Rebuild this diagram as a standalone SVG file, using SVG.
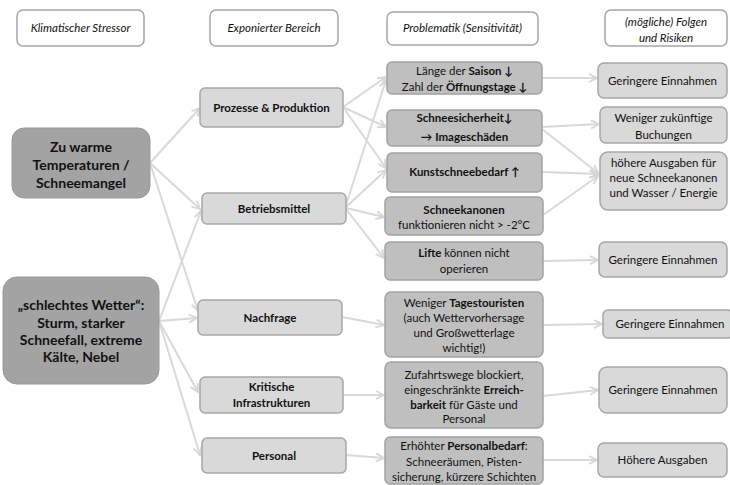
<svg xmlns="http://www.w3.org/2000/svg" width="730" height="485" viewBox="0 0 730 485">
<defs>
<marker id="arr" markerUnits="userSpaceOnUse" markerWidth="12" markerHeight="12" refX="9" refY="5" orient="auto">
<path d="M1,1 L9,5 L1,9" fill="none" stroke="#d6d6d6" stroke-width="1.8"/>
</marker>
<style>
text{font-family:Lato,"Open Sans","Liberation Sans",sans-serif;font-size:11.5px;fill:#111;text-anchor:middle}
.h rect{fill:#fff;stroke:#a6a6a6;stroke-width:1.5}
.h text{font-style:italic}
.s rect{fill:#a3a3a3;stroke:#9a9a9a;stroke-width:1}
.s text{font-weight:bold;font-size:14px}
.e rect{fill:#d9d9d9;stroke:#a6a6a6;stroke-width:1.5}
.e text{font-weight:bold}
.p rect{fill:#bfbfbf;stroke:#a3a3a3;stroke-width:1.5}
.f rect{fill:#d9d9d9;stroke:#a6a6a6;stroke-width:1.5}
.b{font-weight:bold}
#connectors line{stroke:#d9d9d9;stroke-width:2;marker-end:url(#arr)}
</style>
</defs>
<rect width="730" height="485" fill="#fff"/>

<g id="connectors">
<line x1="150" y1="163" x2="200" y2="108"/>
<line x1="150" y1="163" x2="200" y2="209"/>
<line x1="150" y1="163" x2="198" y2="311"/>
<line x1="159" y1="321" x2="201" y2="211"/>
<line x1="159" y1="321" x2="197" y2="318"/>
<line x1="159" y1="321" x2="198" y2="392"/>
<line x1="159" y1="321" x2="200" y2="455"/>
<line x1="343" y1="107" x2="386" y2="77"/>
<line x1="343" y1="107" x2="386" y2="127"/>
<line x1="343" y1="107" x2="386" y2="168"/>
<line x1="346" y1="205" x2="386" y2="80"/>
<line x1="346" y1="207" x2="386" y2="170"/>
<line x1="346" y1="208" x2="384" y2="217"/>
<line x1="346" y1="209" x2="384" y2="258"/>
<line x1="342" y1="317" x2="384" y2="325"/>
<line x1="343" y1="395" x2="384" y2="395"/>
<line x1="346" y1="455" x2="384" y2="458"/>
<line x1="542" y1="78" x2="597" y2="78"/>
<line x1="542" y1="127" x2="599" y2="124"/>
<line x1="542" y1="129" x2="598" y2="173"/>
<line x1="542" y1="172" x2="598" y2="174"/>
<line x1="543" y1="215" x2="598" y2="176"/>
<line x1="543" y1="261" x2="598" y2="260"/>
<line x1="543" y1="325" x2="602" y2="324"/>
<line x1="543" y1="396" x2="598" y2="390"/>
<line x1="543" y1="460" x2="597" y2="460"/>
</g>

<g id="h1" class="h"><rect x="17" y="10" width="127" height="36" rx="6"/><text x="80.5" y="32">Klimatischer Stressor</text></g>
<g id="h2" class="h"><rect x="210" y="10" width="128" height="36" rx="6"/><text x="274" y="32">Exponierter Bereich</text></g>
<g id="h3" class="h"><rect x="387" y="12" width="151" height="33" rx="6"/><text x="462.5" y="32">Problematik (Sensitivität)</text></g>
<g id="h4" class="h"><rect x="605" y="10" width="122" height="36" rx="6"/><text x="666" y="26">(mögliche) Folgen</text><text x="666" y="42">und Risiken</text></g>

<g id="s1" class="s"><rect x="12" y="128" width="138" height="70" rx="12"/><text x="81" y="152">Zu warme</text><text x="81" y="170">Temperaturen /</text><text x="81" y="188">Schneemangel</text></g>
<g id="s2" class="s"><rect x="3" y="277" width="156" height="107" rx="14"/><text x="81" y="310">„schlechtes Wetter“:</text><text x="81" y="328">Sturm, starker</text><text x="81" y="345">Schneefall, extreme</text><text x="81" y="362">Kälte, Nebel</text></g>

<g id="e1" class="e"><rect x="200" y="88" width="143" height="39" rx="5"/><text x="271.5" y="112">Prozesse &amp; Produktion</text></g>
<g id="e2" class="e"><rect x="202" y="193" width="144" height="31" rx="5"/><text x="274" y="213">Betriebsmittel</text></g>
<g id="e3" class="e"><rect x="198" y="300" width="144" height="35" rx="5"/><text x="270" y="322">Nachfrage</text></g>
<g id="e4" class="e"><rect x="200" y="377" width="143" height="36" rx="5"/><text x="271.5" y="391">Kritische</text><text x="271.5" y="407">Infrastrukturen</text></g>
<g id="e5" class="e"><rect x="202" y="438" width="144" height="35" rx="5"/><text x="274" y="460">Personal</text></g>

<g id="p1" class="p"><rect x="387" y="62" width="155" height="32" rx="5"/><text x="464.5" y="75">Länge der <tspan class="b">Saison ↓</tspan></text><text x="464.5" y="91">Zahl der <tspan class="b">Öffnungstage ↓</tspan></text></g>
<g id="p2" class="p"><rect x="387" y="110" width="155" height="36" rx="5"/><text x="464.5" y="122" class="b">Schneesicherheit↓</text><text x="464.5" y="141" class="b">→ Imageschäden</text></g>
<g id="p3" class="p"><rect x="387" y="153" width="155" height="39" rx="5"/><text x="464.5" y="176" class="b">Kunstschneebedarf ↑</text></g>
<g id="p4" class="p"><rect x="385" y="197" width="158" height="38" rx="5"/><text x="464" y="214" class="b">Schneekanonen</text><text x="464" y="229">funktionieren nicht &gt; -2°C</text></g>
<g id="p5" class="p"><rect x="385" y="242" width="158" height="38" rx="5"/><text x="464" y="257"><tspan class="b">Lifte</tspan> können nicht</text><text x="464" y="273">operieren</text></g>
<g id="p6" class="p"><rect x="385" y="292" width="158" height="65" rx="6"/><text x="464" y="307">Weniger <tspan class="b">Tagestouristen</tspan></text><text x="464" y="322">(auch Wettervorhersage</text><text x="464" y="337">und Großwetterlage</text><text x="464" y="352">wichtig!)</text></g>
<g id="p7" class="p"><rect x="385" y="362" width="158" height="66" rx="6"/><text x="464" y="379">Zufahrtswege blockiert,</text><text x="464" y="394">eingeschränkte <tspan class="b">Erreich-</tspan></text><text x="464" y="409"><tspan class="b">barkeit</tspan> für Gäste und</text><text x="464" y="423">Personal</text></g>
<g id="p8" class="p"><rect x="385" y="437" width="158" height="47" rx="5"/><text x="464" y="450">Erhöhter <tspan class="b">Personalbedarf</tspan>:</text><text x="464" y="466">Schneeräumen, Pisten-</text><text x="464" y="481">sicherung, kürzere Schichten</text></g>

<g id="f1" class="f"><rect x="598" y="63" width="129" height="35" rx="6"/><text x="662.5" y="85">Geringere Einnahmen</text></g>
<g id="f2" class="f"><rect x="600" y="107" width="127" height="36" rx="6"/><text x="663.5" y="122">Weniger zukünftige</text><text x="663.5" y="139">Buchungen</text></g>
<g id="f3" class="f"><rect x="600" y="152" width="127" height="58" rx="8"/><text x="663.5" y="167">höhere Ausgaben für</text><text x="663.5" y="182">neue Schneekanonen</text><text x="663.5" y="197">und Wasser / Energie</text></g>
<g id="f4" class="f"><rect x="599" y="242" width="128" height="35" rx="6"/><text x="663" y="264">Geringere Einnahmen</text></g>
<g id="f5" class="f"><rect x="603" y="310" width="130" height="28" rx="5"/><text x="670" y="328">Geringere Einnahmen</text></g>
<g id="f6" class="f"><rect x="599" y="367" width="128" height="46" rx="8"/><text x="663" y="394">Geringere Einnahmen</text></g>
<g id="f7" class="f"><rect x="598" y="443" width="129" height="34" rx="6"/><text x="662.5" y="464">Höhere Ausgaben</text></g>
</svg>
